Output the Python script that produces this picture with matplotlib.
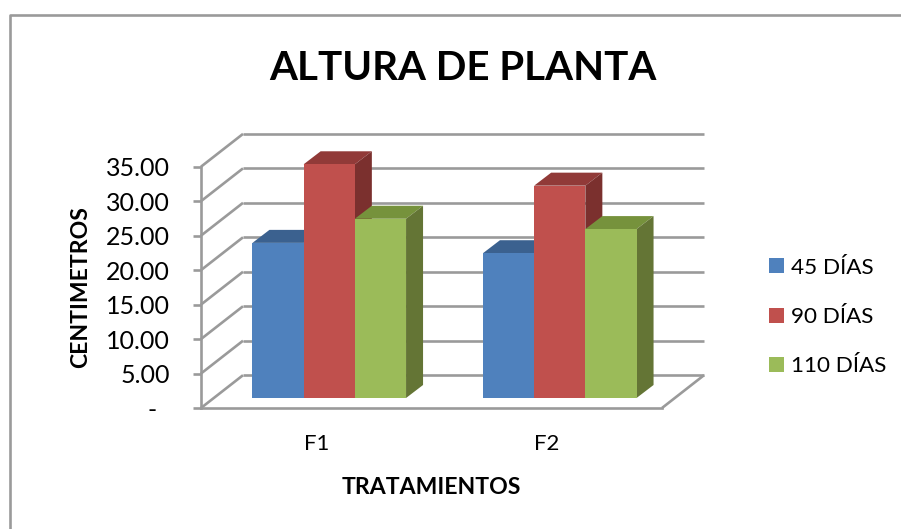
import matplotlib
matplotlib.use("Agg")
import matplotlib.pyplot as plt
from matplotlib.lines import Line2D
from matplotlib.patches import Patch

categories = ["F1", "F2"]
series_names = ["45 DÍAS", "90 DÍAS", "110 DÍAS"]
dias_45 = [22.5, 21.0]
dias_90 = [33.9, 30.8]
dias_110 = [26.0, 24.5]
y_ticks = [0, 5, 10, 15, 20, 25, 30, 35]
y_tick_labels = ["-\u00a0\u00a0", "5.00", "10.00", "15.00", "20.00", "25.00", "30.00", "35.00"]

front_colors = ["#4F81BD", "#C0504D", "#9BBB59"]
top_colors = ["#3B618F", "#913A38", "#76923C"]
side_colors = ["#35577F", "#7B302E", "#647535"]
GRID = "#9A9A9A"
W, H = 901, 529
FONT = ["Lato", "DejaVu Sans"]
plt.rcParams["font.family"] = FONT

fig = plt.figure(figsize=(W / 100, H / 100), dpi=100, facecolor="white")
L, R, T, B = 201, 662, 166.7, 408
ax = fig.add_axes([L / W, 1 - B / H, (R - L) / W, (B - T) / H])
ax.set_xlim(0, 2)
ax.set_ylim(0, 35)
ax.patch.set_visible(False)
px_x = 2 / (R - L)
px_y = 35 / (B - T)
wall_dx, wall_dy = 42 * px_x, 32.8 * px_y
bar_dx0, bar_dy0 = 13 * px_x, 10 * px_y
bar_dx1, bar_dy1 = 30 * px_x, 23 * px_y
bar_w = 51.2 * px_x

line_kw = dict(color=GRID, lw=1.9, clip_on=False, solid_capstyle="butt", zorder=1)
for y in y_ticks[1:] + [0]:
    ax.plot([wall_dx, 2 + wall_dx], [y + wall_dy] * 2, **line_kw)
    ax.plot([0, wall_dx], [y, y + wall_dy], **line_kw)
ax.plot([2, 2 + wall_dx], [0, wall_dy], **line_kw)

for i, (vals, fc, tc, sc) in enumerate(zip([dias_45, dias_90, dias_110], front_colors, top_colors, side_colors)):
    for j, v in enumerate(vals):
        x0 = j + 0.5 + (i - 1.5) * bar_w + bar_dx0
        x1 = x0 + bar_w
        ddx = bar_dx1 - bar_dx0
        ddy = bar_dy1 - bar_dy0
        top = v + bar_dy0
        z = 3 + i
        ax.fill([x0, x1, x1 + ddx, x0 + ddx], [top, top, top + ddy, top + ddy], color=tc, lw=0, clip_on=False, zorder=z)
        ax.fill([x1, x1 + ddx, x1 + ddx, x1], [bar_dy0, bar_dy1, top + ddy, top], color=sc, lw=0, clip_on=False, zorder=z)
    xs = [j + 0.5 + (i - 1) * bar_w + bar_dx0 for j in range(len(vals))]
    ax.bar(xs, vals, width=bar_w, bottom=bar_dy0, color=fc, lw=0, clip_on=False, zorder=3 + i)

for s in ["top", "right"]:
    ax.spines[s].set_visible(False)
for s in ["left", "bottom"]:
    ax.spines[s].set_color(GRID)
    ax.spines[s].set_linewidth(1.9)
    ax.spines[s].set_zorder(2)
ax.set_yticks(y_ticks)
ax.set_yticklabels(y_tick_labels)
ax.set_xticks([0.5, 1.5])
ax.set_xticklabels(categories)
ax.tick_params(axis="y", length=5.8, width=1.9, color=GRID, pad=16.5, labelsize=18, labelcolor="black")
ax.tick_params(axis="x", length=0, pad=18.5, labelsize=16, labelcolor="black")


def ax_x(p):
    return (p - L) / (R - L)


def ax_y(p):
    return (B - p) / (B - T)


ax.set_xlabel("TRATAMIENTOS", fontsize=16.6, fontweight="bold", va="center")
ax.xaxis.set_label_coords(ax_x(431), ax_y(487))
ax.set_ylabel("CENTIMETROS", fontsize=16.6, fontweight="bold", va="center")
ax.yaxis.set_label_coords(ax_x(81), ax_y(287))
ax.set_title("ALTURA DE PLANTA", fontsize=29, fontweight="bold", x=ax_x(463), y=ax_y(69), va="center", pad=0)

handles = [Patch(facecolor=c, edgecolor="none", label=n) for c, n in zip(front_colors, series_names)]
leg = ax.legend(handles=handles, loc="center left", bbox_to_anchor=(ax_x(769), ax_y(317)), frameon=False,
                fontsize=16.2, handlelength=0.66, handleheight=0.66, handletextpad=0.32,
                labelspacing=1.3, borderpad=0, borderaxespad=0)

fig.add_artist(Line2D([10 / W, 10 / W, 1], [0, 1 - 15 / H, 1 - 15 / H], color=GRID, lw=1.9))
fig.savefig("out.png", dpi=100)
